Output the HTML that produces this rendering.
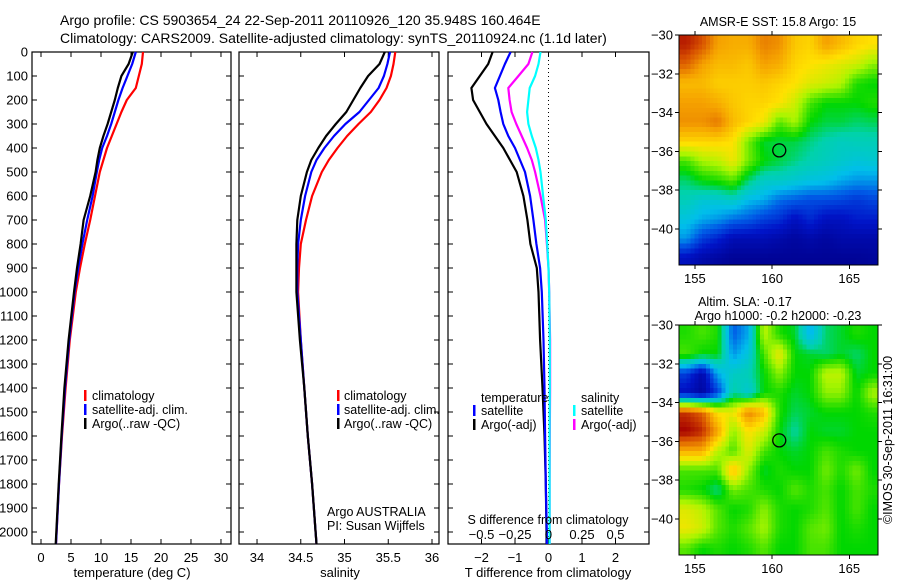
<!DOCTYPE html>
<html><head><meta charset="utf-8"><style>
html,body{margin:0;padding:0;background:#fff;}
svg{display:block;font-family:"Liberation Sans",sans-serif;}
</style></head><body>
<svg id="fig" width="900" height="580" viewBox="0 0 900 580">
<text x="60" y="25" font-size="14">Argo profile: CS 5903654_24 22-Sep-2011 20110926_120 35.948S 160.464E</text>
<text x="60" y="43" font-size="14">Climatology: CARS2009. Satellite-adjusted climatology: synTS_20110924.nc (1.1d later)</text>
</svg>
<script>
// ---- data ----
const depths=[0,50,100,150,200,250,300,350,400,450,500,600,700,800,900,1000,1200,1400,1600,1800,2000,2050];
const tempClim=[17,16.8,16.3,15.8,14.3,13.4,12.6,11.8,11,10.4,9.8,9,8.2,7.3,6.5,5.8,4.8,4.1,3.5,3.0,2.6,2.5];
const tempSat=[15.8,15.2,14.4,13.6,12.9,12.3,11.7,11,10.2,9.7,9.3,8.6,7.7,6.9,6.2,5.6,4.7,4.0,3.45,3.0,2.6,2.5];
const tempArgo=[15.3,14.6,13.4,12.8,12.3,11.7,11.1,10.4,9.8,9.4,9.1,8.2,7.1,6.6,6.0,5.5,4.6,3.9,3.4,2.95,2.55,2.45];
const salClim=[35.58,35.56,35.53,35.48,35.4,35.3,35.16,35.03,34.92,34.82,34.74,34.63,34.56,34.5,34.48,34.47,34.5,34.54,34.58,34.63,34.67,34.68];
const salSat=[35.52,35.49,35.45,35.39,35.28,35.17,35.01,34.88,34.77,34.68,34.62,34.55,34.5,34.47,34.46,34.46,34.5,34.54,34.58,34.63,34.67,34.68];
const salArgo=[35.46,35.4,35.27,35.18,35.1,35.02,34.9,34.79,34.7,34.62,34.57,34.5,34.46,34.45,34.45,34.45,34.49,34.54,34.58,34.63,34.67,34.68];
const dTArgo=[-1.67,-1.8,-2.05,-2.3,-2.25,-2.05,-1.85,-1.6,-1.35,-1.15,-0.95,-0.75,-0.63,-0.54,-0.35,-0.3,-0.25,-0.18,-0.12,-0.08,-0.06,-0.06];
const dTSat=[-1.13,-1.3,-1.45,-1.6,-1.5,-1.43,-1.35,-1.2,-1.0,-0.85,-0.7,-0.55,-0.45,-0.36,-0.25,-0.2,-0.15,-0.12,-0.1,-0.08,-0.05,-0.05];
const dSArgo=[-0.12,-0.15,-0.225,-0.3,-0.29,-0.275,-0.24,-0.2,-0.16,-0.125,-0.1,-0.06,-0.025,-0.012,0,0.005,0.012,0.012,0.01,0.008,0.008,0.008];
const dSSat=[-0.06,-0.075,-0.1,-0.14,-0.15,-0.16,-0.15,-0.125,-0.095,-0.075,-0.06,-0.04,-0.02,-0.01,0,0.005,0.01,0.01,0.008,0.008,0.008,0.008];
const depthTicks=[0,100,200,300,400,500,600,700,800,900,1000,1100,1200,1300,1400,1500,1600,1700,1800,1900,2000];
const tempTicks=[0,5,10,15,20,25,30];
const salTicks=[34,34.5,35,35.5,36];
const salTickLabels=['34','34.5','35','35.5','36'];
const dTTicks=[-2,-1,0,1,2];
const dSTicks=[-0.5,-0.25,0,0.25,0.5];
const dSTickLabels=['\u22120.5','\u22120.25','0','0.25','0.5'];
const latTicks=[-30,-32,-34,-36,-38,-40];
const lonTicks=[155,160,165];
const argoLon=160.464, argoLat=-35.948;
const sstGrid=[
[0.97,0.92,0.82,0.8,0.8,0.86,0.84,0.76,0.74,0.82,0.78,0.74,0.72],
[0.9,0.82,0.78,0.78,0.76,0.82,0.8,0.74,0.72,0.7,0.68,0.66,0.6],
[0.78,0.78,0.75,0.75,0.75,0.76,0.74,0.72,0.68,0.66,0.63,0.52,0.5],
[0.82,0.82,0.8,0.76,0.74,0.74,0.72,0.66,0.55,0.5,0.5,0.5,0.52],
[0.84,0.84,0.87,0.78,0.74,0.7,0.56,0.62,0.5,0.47,0.47,0.45,0.46],
[0.74,0.74,0.74,0.72,0.58,0.48,0.47,0.47,0.44,0.41,0.39,0.4,0.4],
[0.55,0.62,0.64,0.7,0.58,0.5,0.47,0.44,0.41,0.39,0.37,0.35,0.36],
[0.45,0.5,0.52,0.56,0.45,0.38,0.38,0.36,0.34,0.33,0.3,0.28,0.28],
[0.4,0.36,0.36,0.38,0.32,0.3,0.24,0.22,0.2,0.2,0.19,0.17,0.19],
[0.34,0.3,0.28,0.24,0.22,0.18,0.16,0.1,0.15,0.1,0.1,0.13,0.13],
[0.28,0.18,0.14,0.08,0.08,0.08,0.06,0.04,0.06,0.04,0.06,0.06,0.06],
[0.1,0.06,0.04,0.02,0.02,0.02,0.02,0.02,0.02,0.02,0.02,0.02,0.03]];
const slaGrid=[
[0.52,0.55,0.52,0.22,0.3,0.64,0.52,0.48,0.3,0.45,0.48,0.52,0.5],
[0.55,0.5,0.5,0.28,0.35,0.55,0.7,0.5,0.48,0.45,0.48,0.45,0.5],
[0.18,0.06,0.3,0.38,0.4,0.5,0.6,0.5,0.5,0.64,0.64,0.48,0.5],
[0.1,0.04,0.18,0.42,0.36,0.5,0.52,0.48,0.5,0.6,0.6,0.5,0.62],
[0.95,0.9,0.72,0.7,0.86,0.78,0.52,0.46,0.48,0.5,0.5,0.5,0.52],
[1.0,0.96,0.82,0.6,0.72,0.66,0.5,0.42,0.5,0.48,0.48,0.5,0.5],
[0.8,0.8,0.64,0.55,0.68,0.55,0.5,0.48,0.5,0.55,0.52,0.5,0.5],
[0.55,0.55,0.55,0.78,0.6,0.48,0.52,0.5,0.5,0.58,0.52,0.58,0.5],
[0.52,0.5,0.44,0.58,0.55,0.52,0.5,0.56,0.52,0.55,0.5,0.55,0.52],
[0.68,0.64,0.56,0.5,0.52,0.6,0.52,0.5,0.52,0.56,0.5,0.55,0.5],
[0.7,0.66,0.56,0.52,0.56,0.62,0.52,0.5,0.56,0.58,0.5,0.52,0.5],
[0.56,0.5,0.52,0.5,0.52,0.56,0.5,0.5,0.55,0.55,0.5,0.5,0.5]];

const NS='http://www.w3.org/2000/svg';
const svg=document.getElementById('fig');
function el(tag,attrs,parent,text){const e=document.createElementNS(NS,tag);for(const k in attrs)e.setAttribute(k,attrs[k]);if(text!==undefined)e.textContent=text;(parent||svg).appendChild(e);return e;}

const yTop=52,yBot=544,dMax=2050;
const yD=d=>yTop+d*(yBot-yTop)/dMax;
function xs(x0,x1,v0,v1){return v=>x0+(v-v0)*(x1-x0)/(v1-v0);}
const panels=[
 {x0:32,x1:231,v0:-1.5,v1:31.67,name:'temperature-panel'},
 {x0:239,x1:439,v0:33.794,v1:36.08,name:'salinity-panel'},
 {x0:448,x1:649,v0:-3,v1:3,name:'difference-panel'}];
panels.forEach(p=>p.x=xs(p.x0,p.x1,p.v0,p.v1));

function line(parent,xf,vals,color,name,w){
  let d='';
  vals.forEach((v,i)=>{d+=(i?'L':'M')+xf(v).toFixed(1)+','+yD(depths[i]).toFixed(1);});
  const e=el('path',{d:d,fill:'none',stroke:color,'stroke-width':w||2.2,'stroke-linejoin':'round'},parent);
  
  
}
panels.forEach((p,pi)=>{
  const g=el('g',{});
  
  
  el('rect',{x:p.x0,y:yTop,width:p.x1-p.x0,height:yBot-yTop,fill:'none',stroke:'#000','stroke-width':1.2},g);
  depthTicks.forEach(d=>{
    const y=yD(d);
    el('line',{x1:p.x0,x2:p.x0+5,y1:y,y2:y,stroke:'#000'},g);
    el('line',{x1:p.x1-5,x2:p.x1,y1:y,y2:y,stroke:'#000'},g);
    if(pi===0){const t=el('text',{x:28,y:y+4.5,'font-size':13,'text-anchor':'end'},g,String(d));
      }
  });
});
const P0=panels[0],P1=panels[1],P2=panels[2];
tempTicks.forEach(v=>{const x=P0.x(v);
  el('line',{x1:x,x2:x,y1:yBot,y2:yBot-5,stroke:'#000'});el('line',{x1:x,x2:x,y1:yTop,y2:yTop+5,stroke:'#000'});
  const t=el('text',{x:x,y:yBot+18,'font-size':13,'text-anchor':'middle'},svg,String(v));
  });
line(svg,P0.x,tempClim,'#f00','temp-climatology-line');
line(svg,P0.x,tempSat,'#00f','temp-satellite-line');
line(svg,P0.x,tempArgo,'#000','temp-argo-line');
salTicks.forEach((v,i)=>{const x=P1.x(v);
  el('line',{x1:x,x2:x,y1:yBot,y2:yBot-5,stroke:'#000'});el('line',{x1:x,x2:x,y1:yTop,y2:yTop+5,stroke:'#000'});
  const t=el('text',{x:x,y:yBot+18,'font-size':13,'text-anchor':'middle'},svg,salTickLabels[i]);
  });
line(svg,P1.x,salClim,'#f00','sal-climatology-line');
line(svg,P1.x,salSat,'#00f','sal-satellite-line');
line(svg,P1.x,salArgo,'#000','sal-argo-line');
el('line',{x1:P2.x(0),x2:P2.x(0),y1:yTop,y2:yBot,stroke:'#000','stroke-dasharray':'1,3'});
dTTicks.forEach(v=>{const x=P2.x(v);
  el('line',{x1:x,x2:x,y1:yBot,y2:yBot-5,stroke:'#000'});el('line',{x1:x,x2:x,y1:yTop,y2:yTop+5,stroke:'#000'});
  const t=el('text',{x:x,y:yBot+18,'font-size':13,'text-anchor':'middle'},svg,v<0?'\u2212'+(-v):String(v));
  });
const sx=v=>P2.x(v*4);
line(svg,P2.x,dTArgo,'#000','t-diff-argo-line');
line(svg,P2.x,dTSat,'#00f','t-diff-satellite-line');
line(svg,sx,dSArgo,'#f0f','s-diff-argo-line');
line(svg,sx,dSSat,'#0ff','s-diff-satellite-line');
dSTicks.forEach((v,i)=>{const t=el('text',{x:sx(v),y:539,'font-size':13,'text-anchor':'middle'},svg,dSTickLabels[i]);
  });

const stops=[[0,[0,0,140]],[0.12,[0,20,200]],[0.22,[0,90,230]],[0.32,[0,190,235]],[0.42,[0,210,170]],[0.5,[0,215,0]],[0.62,[170,245,0]],[0.72,[255,225,0]],[0.82,[245,160,0]],[0.92,[215,80,0]],[1,[165,0,0]]];
function cmap(v){for(let i=1;i<stops.length;i++){if(v<=stops[i][0]){const a=stops[i-1],b=stops[i],t=(v-a[0])/(b[0]-a[0]);
  return 'rgb('+a[1].map((c,k)=>Math.round(c+(b[1][k]-c)*t)).join(',')+')';}}return 'rgb(165,0,0)';}
function sample(grid,r,c){
  const R=grid.length,C=grid[0].length;
  let rr=Math.min(Math.max(r-0.5,0),R-1),cc=Math.min(Math.max(c-0.5,0),C-1);
  const r0=Math.floor(rr),c0=Math.floor(cc),r1=Math.min(r0+1,R-1),c1=Math.min(c0+1,C-1),fr=rr-r0,fc=cc-c0;
  return grid[r0][c0]*(1-fr)*(1-fc)+grid[r0][c1]*(1-fr)*fc+grid[r1][c0]*fr*(1-fc)+grid[r1][c1]*fr*fc;
}
function map(y0,y1,grid,name){
  const x0=679,x1=878,lon0=153.97,lon1=166.86,lat0=-30,lat1=-30-(y1-y0)/19.4;
  const lx=v=>x0+(v-lon0)*(x1-x0)/(lon1-lon0), ly=v=>y0+(lat0-v)*(y1-y0)/(lat0-lat1);
  const g=el('g',{'shape-rendering':'crispEdges'});
  
  
  const sub=4,step=1/sub;
  for(let r=0;r<grid.length*sub;r++)for(let c=0;c<grid[0].length*sub;c++){
    const la=lat0-r*step,lo=lon0+c*step;
    const ya=ly(la);if(ya>=y1)continue;
    const xa=lx(lo);if(xa>=x1)continue;
    const xb=Math.min(x1,lx(lo+step)),yb=Math.min(y1,ly(la-step));
    const v=sample(grid,(r+0.5)*step,(c+0.5)*step);
    const cell=el('rect',{x:xa.toFixed(1),y:ya.toFixed(1),width:(xb-xa+0.6).toFixed(1),height:(yb-ya+0.6).toFixed(1),fill:cmap(v)},g);
    
    
  }
  el('rect',{x:x0,y:y0,width:x1-x0,height:y1-y0,fill:'none',stroke:'#000','stroke-width':1.2},g);
  latTicks.forEach(v=>{const y=ly(v);
    el('line',{x1:x0-4,x2:x0,y1:y,y2:y,stroke:'#000'},g);el('line',{x1:x1,x2:x1+4,y1:y,y2:y,stroke:'#000'},g);
    el('text',{x:673,y:y+4.5,'font-size':13,'text-anchor':'end'},g,'\u2212'+(-v));});
  lonTicks.forEach(v=>{const x=lx(v);
    el('line',{x1:x,x2:x,y1:y1,y2:y1+4,stroke:'#000'},g);el('line',{x1:x,x2:x,y1:y0-4,y2:y0,stroke:'#000'},g);
    el('text',{x:x,y:y1+18,'font-size':13,'text-anchor':'middle'},g,String(v));});
  const c=el('circle',{cx:lx(argoLon),cy:ly(argoLat),r:6.5,fill:'none',stroke:'#000','stroke-width':1.3},svg);
  
  
}
map(35,265,sstGrid,'sst-map');
map(325,555,slaGrid,'sla-map');

svg.insertAdjacentHTML('beforeend',`
<g font-size="12.5">
<rect x="84" y="390" width="2.5" height="11" fill="#f00"/><text x="92" y="400">climatology</text>
<rect x="84" y="404" width="2.5" height="11" fill="#00f"/><text x="92" y="414">satellite-adj. clim.</text>
<rect x="84" y="418" width="2.5" height="11" fill="#000"/><text x="92" y="428">Argo(..raw -QC)</text></g>
<g font-size="12.5">
<rect x="337" y="390" width="2.5" height="11" fill="#f00"/><text x="344" y="400">climatology</text>
<rect x="337" y="404" width="2.5" height="11" fill="#00f"/><text x="344" y="414">satellite-adj. clim.</text>
<rect x="337" y="418" width="2.5" height="11" fill="#000"/><text x="344" y="428">Argo(..raw -QC)</text></g>
<g font-size="12.5">
<text x="481" y="402">temperature</text>
<rect x="473" y="405" width="2.5" height="11" fill="#00f"/><text x="481" y="415">satellite</text>
<rect x="473" y="419" width="2.5" height="11" fill="#000"/><text x="481" y="429">Argo(-adj)</text>
<text x="581" y="402">salinity</text>
<rect x="573" y="405" width="2.5" height="11" fill="#0ff"/><text x="581" y="415">satellite</text>
<rect x="573" y="419" width="2.5" height="11" fill="#f0f"/><text x="581" y="429">Argo(-adj)</text></g>
<text x="327" y="516" font-size="12.5">Argo AUSTRALIA</text>
<text x="327" y="530" font-size="12.5">PI: Susan Wijffels</text>
<text x="548" y="524" font-size="12.5" text-anchor="middle">S difference from climatology</text>
<text x="132" y="577" font-size="13" text-anchor="middle">temperature (deg C)</text>
<text x="340" y="577" font-size="13" text-anchor="middle">salinity</text>
<text x="548" y="577" font-size="13" text-anchor="middle">T difference from climatology</text>
<text x="778" y="26" font-size="12.5" text-anchor="middle">AMSR-E SST: 15.8 Argo: 15</text>
<text x="745" y="306" font-size="12.5" text-anchor="middle">Altim. SLA: -0.17</text>
<text x="778" y="320" font-size="12.5" text-anchor="middle">Argo h1000: -0.2 h2000: -0.23</text>
<text x="0" y="0" font-size="12.5" text-anchor="middle" transform="translate(892,440) rotate(-90)">©IMOS 30-Sep-2011 16:31:00</text>
`);
</script>
</body></html>
